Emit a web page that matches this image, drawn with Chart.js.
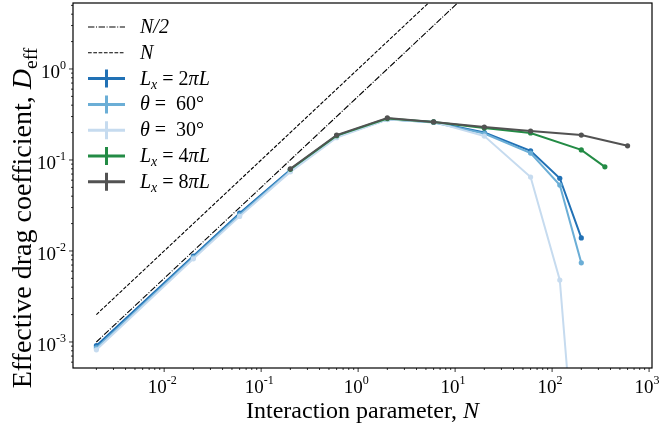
<!DOCTYPE html>
<html>
<head>
<meta charset="utf-8">
<script src="https://cdn.jsdelivr.net/npm/chart.js@4"></script>
<style>
  html, body { margin: 0; padding: 0; background: #fff; }
  #wrap { width: 660px; height: 428px; }
</style>
</head>
<body>
<div id="wrap"><canvas id="dragChart" width="660" height="428"></canvas></div>
<script>
// Interaction parameter values (x)
const interactionN = [0.002, 0.02, 0.06, 0.2, 0.6, 2, 6, 20, 60, 120, 200, 350, 600];

// Effective drag coefficient per case (null = no run)
const dragLx2 = [0.00091, 0.0088, 0.026, 0.078, 0.182, 0.28, 0.262, 0.2, 0.126, 0.063, 0.0139, null, null];
const dragTheta60 = [0.00086, 0.0085, 0.025, 0.076, 0.18, 0.28, 0.258, 0.195, 0.119, 0.053, 0.0074, null, null];
const dragTheta30 = [0.00082, 0.0082, 0.024, 0.074, 0.176, 0.278, 0.262, 0.183, 0.065, 0.0048, 0.000006, null, null];
const dragLx4 = [null, null, null, 0.079, 0.185, 0.285, 0.262, 0.225, 0.198, null, 0.129, 0.084, null];
const dragLx8 = [null, null, null, 0.08, 0.188, 0.29, 0.262, 0.23, 0.208, null, 0.188, null, 0.143];

// Reference lines D = N and D = N/2
const refX = [0.002, 20];
const refN = [0.002, 20];
const refHalf = [0.001, 10];

// Axis ticks
const xMajorTicks = [1e-2, 1e-1, 1, 10, 100, 1000];
const xTickExp = ['-2', '-1', '0', '1', '2', '3'];
const yMajorTicks = [1e-3, 1e-2, 1e-1, 1];
const yTickExp = ['-3', '-2', '-1', '0'];

const xRange = [Math.pow(10, -2.94), Math.pow(10, 3.03)];
const yRange = [Math.pow(10, -3.286), Math.pow(10, 0.725)];

// Legend labels as rich text pieces
const legendLabels = [
    [{ t: 'N/2', it: true }],
    [{ t: 'N', it: true }],
    [{ t: 'L', it: true }, { t: 'x', it: true, sub: true }, { t: ' = 2' }, { t: 'πL', it: true }],
    [{ t: 'θ', it: true }, { t: ' =  60°' }],
    [{ t: 'θ', it: true }, { t: ' =  30°' }],
    [{ t: 'L', it: true }, { t: 'x', it: true, sub: true }, { t: ' = 4' }, { t: 'πL', it: true }],
    [{ t: 'L', it: true }, { t: 'x', it: true, sub: true }, { t: ' = 8' }, { t: 'πL', it: true }]
];

const colLx2 = '#2171b5';
const colTheta60 = '#6baed6';
const colTheta30 = '#c6dbef';
const colLx4 = '#238b45';
const colLx8 = '#525252';

const SERIF = '"Liberation Serif", "DejaVu Serif", serif';

function toPoints(xs, ys) {
    return xs.map((x, i) => ({ x: x, y: ys[i] })).filter(p => p.y !== null);
}

function seriesDataset(label, values, color, order) {
    return {
        label: label,
        data: toPoints(interactionN, values),
        borderColor: color,
        backgroundColor: color,
        borderWidth: 2,
        pointRadius: 2.6,
        pointBorderWidth: 0,
        pointHoverRadius: 2.6,
        tension: 0,
        order: order
    };
}

function refDataset(label, ys, dash, order) {
    return {
        label: label,
        data: toPoints(refX, ys),
        borderColor: '#000',
        borderWidth: 1.1,
        borderDash: dash,
        pointRadius: 0,
        tension: 0,
        order: order
    };
}

function drawRich(ctx, parts, x, y, size, measureOnly) {
    let cx = x;
    parts.forEach(p => {
        const fs = p.sub ? size * 0.7 : size;
        ctx.font = (p.it ? 'italic ' : '') + fs + 'px ' + SERIF;
        const w = ctx.measureText(p.t).width;
        if (!measureOnly) {
            ctx.fillText(p.t, cx, p.sub ? y + size * 0.22 : y);
        }
        cx += w;
    });
    return cx - x;
}

function drawPower(ctx, exp, x, y, align) {
    ctx.font = '19px ' + SERIF;
    const wb = ctx.measureText('10').width;
    ctx.font = '12px ' + SERIF;
    const we = ctx.measureText(exp).width;
    const total = wb + we;
    let sx = align === 'right' ? x - total : x - total / 2;
    ctx.font = '19px ' + SERIF;
    ctx.fillText('10', sx, y);
    ctx.font = '12px ' + SERIF;
    ctx.fillText(exp, sx + wb, y - 9);
}

const axesPlugin = {
    id: 'mplAxes',
    afterDraw(chart) {
        const ctx = chart.ctx;
        const area = chart.chartArea;
        const xs = chart.scales.x;
        const ys = chart.scales.y;
        ctx.save();
        ctx.fillStyle = '#000';
        ctx.strokeStyle = '#000';
        ctx.textBaseline = 'alphabetic';

        // frame
        ctx.lineWidth = 1.2;
        ctx.strokeRect(area.left, area.top, area.right - area.left, area.bottom - area.top);

        // tick marks
        ctx.lineWidth = 0.8;
        const decades = [-4, -3, -2, -1, 0, 1, 2, 3];
        decades.forEach(d => {
            for (let k = 1; k <= 9; k++) {
                const v = k * Math.pow(10, d);
                const len = k === 1 ? 4 : 2;
                if (v >= xRange[0] && v <= xRange[1]) {
                    const px = xs.getPixelForValue(v);
                    ctx.beginPath();
                    ctx.moveTo(px, area.bottom);
                    ctx.lineTo(px, area.bottom + len);
                    ctx.stroke();
                }
                if (v >= yRange[0] && v <= yRange[1]) {
                    const py = ys.getPixelForValue(v);
                    ctx.beginPath();
                    ctx.moveTo(area.left, py);
                    ctx.lineTo(area.left - len, py);
                    ctx.stroke();
                }
            }
        });

        // tick labels
        xMajorTicks.forEach((v, i) => {
            drawPower(ctx, xTickExp[i], xs.getPixelForValue(v) - 2, area.bottom + 25, 'center');
        });
        yMajorTicks.forEach((v, i) => {
            drawPower(ctx, yTickExp[i], area.left - 7, ys.getPixelForValue(v) + 9, 'right');
        });

        // x title
        const xTitle = [{ t: 'Interaction parameter, ' }, { t: 'N', it: true }];
        const xw = drawRich(ctx, xTitle, 0, 0, 24, true);
        drawRich(ctx, xTitle, (area.left + area.right) / 2 - xw / 2, 418, 24);

        // y title
        const yTitle = [{ t: 'Effective drag coefficient, ' }, { t: 'D', it: true }, { t: 'eff', sub: true }];
        const yw = drawRich(ctx, yTitle, 0, 0, 28, true);
        ctx.save();
        ctx.translate(31, 218);
        ctx.rotate(-Math.PI / 2);
        drawRich(ctx, yTitle, -yw / 2, 0, 28);
        ctx.restore();

        // legend
        const colors = ['#000', '#000', colLx2, colTheta60, colTheta30, colLx4, colLx8];
        const dashes = [[6.4, 1.6, 1, 1.6], [3.7, 1.6], null, null, null, null, null];
        legendLabels.forEach((parts, i) => {
            const cy = 27 + i * 25.8;
            const x0 = 88, x1 = 125;
            ctx.strokeStyle = colors[i];
            if (dashes[i]) {
                ctx.lineWidth = 1.1;
                ctx.setLineDash(dashes[i]);
                ctx.beginPath();
                ctx.moveTo(x0, cy);
                ctx.lineTo(x1, cy);
                ctx.stroke();
                ctx.setLineDash([]);
            } else {
                ctx.lineWidth = 3;
                ctx.beginPath();
                ctx.moveTo(x0, cy);
                ctx.lineTo(x1, cy);
                ctx.moveTo((x0 + x1) / 2, cy - 9);
                ctx.lineTo((x0 + x1) / 2, cy + 9);
                ctx.stroke();
            }
            ctx.fillStyle = '#000';
            drawRich(ctx, parts, 140, cy + 6, 20);
        });
        ctx.restore();
    }
};

new Chart(document.getElementById('dragChart'), {
    type: 'line',
    data: {
        datasets: [
            refDataset('N/2', refHalf, [6.4, 1.6, 1, 1.6], 6),
            refDataset('N', refN, [3.7, 1.6], 5),
            seriesDataset('Lx = 2πL', dragLx2, colLx2, 4),
            seriesDataset('θ = 60°', dragTheta60, colTheta60, 3),
            seriesDataset('θ = 30°', dragTheta30, colTheta30, 2),
            seriesDataset('Lx = 4πL', dragLx4, colLx4, 1),
            seriesDataset('Lx = 8πL', dragLx8, colLx8, 0)
        ]
    },
    options: {
        responsive: false,
        animation: false,
        spanGaps: true,
        layout: { padding: { left: 73, right: 8, top: 3, bottom: 60 } },
        plugins: {
            legend: { display: false },
            tooltip: { enabled: false }
        },
        scales: {
            x: { type: 'logarithmic', min: xRange[0], max: xRange[1], display: false },
            y: { type: 'logarithmic', min: yRange[0], max: yRange[1], display: false }
        }
    },
    plugins: [axesPlugin]
});
</script>
</body>
</html>
